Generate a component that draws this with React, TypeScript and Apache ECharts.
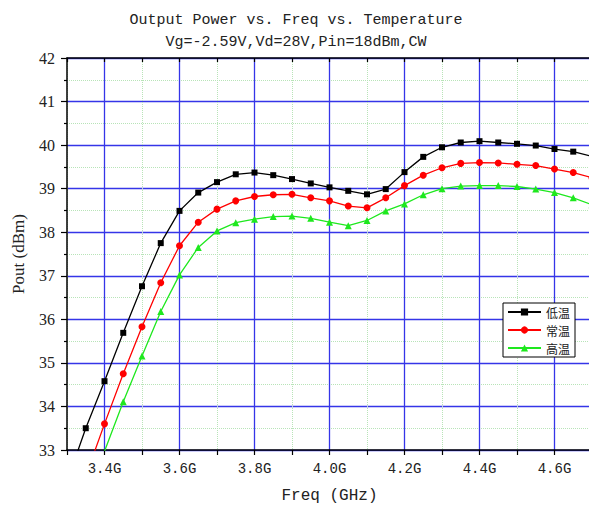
import React, { useEffect, useRef } from "react";
import * as echarts from "echarts";

const FREQ = [3.3, 3.35, 3.4, 3.45, 3.5, 3.55, 3.6, 3.65, 3.7, 3.75, 3.8, 3.85, 3.9, 3.95, 4.0, 4.05, 4.1, 4.15, 4.2, 4.25, 4.3, 4.35, 4.4, 4.45, 4.5, 4.55, 4.6, 4.65, 4.7];
const LOW_TEMP = [32.27, 33.5, 34.58, 35.69, 36.76, 37.75, 38.49, 38.91, 39.15, 39.33, 39.37, 39.31, 39.22, 39.12, 39.03, 38.95, 38.87, 38.99, 39.38, 39.73, 39.95, 40.06, 40.09, 40.06, 40.03, 39.99, 39.91, 39.85, 39.74];
const ROOM_TEMP = [null, 32.4, 33.6, 34.75, 35.83, 36.84, 37.69, 38.23, 38.53, 38.72, 38.82, 38.86, 38.87, 38.79, 38.72, 38.6, 38.56, 38.79, 39.07, 39.31, 39.48, 39.58, 39.6, 39.59, 39.56, 39.53, 39.45, 39.37, 39.25];
const HIGH_TEMP = [null, null, 32.97, 34.11, 35.16, 36.18, 37.02, 37.65, 38.03, 38.22, 38.3, 38.36, 38.37, 38.32, 38.23, 38.15, 38.27, 38.49, 38.65, 38.86, 39.0, 39.06, 39.07, 39.07, 39.05, 38.99, 38.91, 38.79, 38.63];
const SERIES_NAMES = ["低温", "常温", "高温"];
const X_LABEL_VALUES = [3.4, 3.6, 3.8, 4.0, 4.2, 4.4, 4.6];
const TITLE = "Output Power vs. Freq vs. Temperature";
const SUBTITLE = "Vg=-2.59V,Vd=28V,Pin=18dBm,CW";
const X_NAME = "Freq (GHz)";
const Y_NAME = "Pout (dBm)";

const BLUE = "#3535e8";
const GREEN_GRID = "#b8e4b8";
const MONO = "Liberation Mono";
const SERIF = "Liberation Serif";

function pairs(vals: (number | null)[]) {
  const out: [number, number][] = [];
  FREQ.forEach((f, i) => {
    const v = vals[i];
    if (v !== null && v !== undefined) out.push([f, v]);
  });
  return out;
}

export default function App() {
  const ref = useRef<HTMLDivElement>(null);
  useEffect(() => {
    if (!ref.current) return;
    const chart = echarts.init(ref.current, undefined, { renderer: "svg" });
    const xFmt = (v: number) => {
      const hit = X_LABEL_VALUES.find((t) => Math.abs(t - v) < 1e-6);
      return hit !== undefined ? hit.toFixed(1) + "G" : "";
    };
    chart.setOption({
      animation: false,
      backgroundColor: "#ffffff",
      title: [
        {
          text: TITLE,
          left: 291,
          top: 8,
          textAlign: "center",
          textStyle: { fontFamily: MONO, fontSize: 15, fontWeight: "normal", color: "#222" },
        },
        {
          text: SUBTITLE,
          left: 291,
          top: 30,
          textAlign: "center",
          textStyle: { fontFamily: MONO, fontSize: 15, fontWeight: "normal", color: "#222" },
        },
      ],
      grid: { left: 67, right: -3, top: 58, bottom: 59, outerBoundsMode: "none", containLabel: false },
      legend: {
        orient: "vertical",
        left: 503,
        top: 303,
        itemWidth: 33,
        itemHeight: 9,
        itemGap: 4,
        padding: [2, 5, 2, 4],
        borderColor: "#000",
        borderWidth: 1,
        borderRadius: 0,
        backgroundColor: "#fff",
        textStyle: { fontFamily: "Noto Sans CJK SC", fontSize: 12, color: "#222", lineHeight: 14 },
        data: SERIES_NAMES,
      },
      xAxis: [
        {
          type: "value",
          position: "bottom",
          min: 3.3,
          max: 4.7,
          interval: 0.1,
          name: X_NAME,
          nameLocation: "middle",
          nameGap: 38,
          nameTextStyle: { fontFamily: MONO, fontSize: 16, color: "#222" },
          axisLine: { show: true, onZero: false, lineStyle: { color: "#000", width: 1.5 } },
          axisTick: { show: true, inside: false, length: 5, lineStyle: { color: "#000", width: 1.2 } },
          axisLabel: { formatter: xFmt, margin: 12, fontFamily: MONO, fontSize: 14, color: "#222", showMinLabel: true, showMaxLabel: false },
          splitLine: { show: true, lineStyle: { color: [GREEN_GRID, "rgba(0,0,0,0)"], type: "dotted", width: 1 } },
        },
        {
          type: "value",
          position: "top",
          min: 3.3,
          max: 4.7,
          interval: 0.1,
          axisLine: { show: true, onZero: false, lineStyle: { color: "#000", width: 1.5 } },
          axisTick: { show: true, inside: true, length: 4, lineStyle: { color: "#000", width: 1.2 } },
          axisLabel: { show: false },
          splitLine: { show: true, lineStyle: { color: ["rgba(0,0,0,0)", BLUE], type: "solid", width: 1.3 } },
        },
      ],
      yAxis: {
        type: "value",
        min: 33,
        max: 42,
        interval: 1,
        name: Y_NAME,
        nameLocation: "middle",
        nameGap: 40,
        nameRotate: 90,
        nameTextStyle: { fontFamily: SERIF, fontSize: 17, color: "#222" },
        axisLine: { show: true, onZero: false, lineStyle: { color: "#000", width: 1.5 } },
        axisTick: { show: true, inside: false, length: 6, lineStyle: { color: "#000", width: 1.2 } },
        minorTick: { show: true, splitNumber: 2, length: 3, lineStyle: { color: "#000", width: 1.2 } },
        axisLabel: { margin: 12, fontFamily: SERIF, fontSize: 16, color: "#222" },
        splitLine: { show: true, lineStyle: { color: BLUE, width: 1.3, type: "solid" } },
        minorSplitLine: { show: true, lineStyle: { color: GREEN_GRID, width: 1, type: "dotted" } },
      },
      series: [
        {
          name: SERIES_NAMES[0],
          type: "line",
          data: pairs(LOW_TEMP),
          symbol: "rect",
          symbolSize: 6,
          clip: true,
          itemStyle: { color: "#000" },
          lineStyle: { color: "#000", width: 1.3 },
        },
        {
          name: SERIES_NAMES[1],
          type: "line",
          data: pairs(ROOM_TEMP),
          symbol: "circle",
          symbolSize: 7,
          clip: true,
          itemStyle: { color: "#ff0000" },
          lineStyle: { color: "#ff0000", width: 1.3 },
        },
        {
          name: SERIES_NAMES[2],
          type: "line",
          data: pairs(HIGH_TEMP),
          symbol: "triangle",
          symbolSize: 7,
          clip: true,
          itemStyle: { color: "#1ee81e" },
          lineStyle: { color: "#1ee81e", width: 1.3 },
        },
      ],
    });
    return () => chart.dispose();
  }, []);
  return (
    <div
      ref={ref}
      style={{ position: "fixed", left: 0, top: 0, width: 589, height: 509, background: "#fff" }}
    />
  );
}
